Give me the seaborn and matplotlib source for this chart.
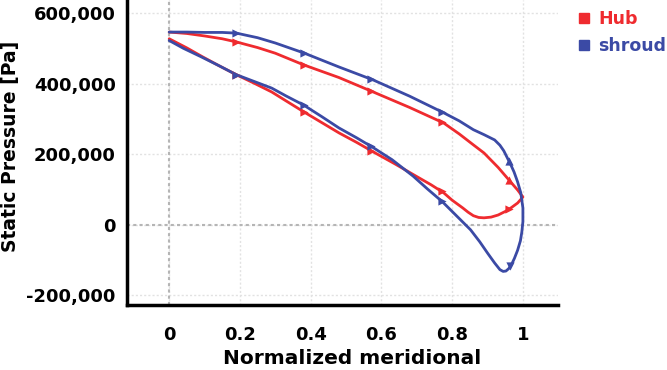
import pandas as pd
import seaborn as sns
import matplotlib
matplotlib.use("Agg")
import matplotlib.pyplot as plt
from matplotlib.ticker import MultipleLocator, StrMethodFormatter
from matplotlib.lines import Line2D

# hub loop: leading edge -> trailing edge (upper) -> back to leading edge (lower)
hub_x = [0, 0.05, 0.1, 0.15, 0.19, 0.25, 0.3, 0.38, 0.48, 0.577, 0.68, 0.776, 0.82, 0.86, 0.89,
         0.93, 0.966, 0.985, 1.0,
         0.985, 0.966, 0.95, 0.93, 0.91, 0.89, 0.875, 0.86, 0.845, 0.83, 0.80, 0.776, 0.74, 0.70, 0.64,
         0.577, 0.53, 0.48, 0.43, 0.38, 0.33, 0.29, 0.24, 0.19, 0.14, 0.094, 0.05, 0]
hub_y = [547, 543, 536, 528, 519, 503, 487, 454, 418, 377, 333, 289, 258, 227, 204,
         163, 121, 99, 79,
         62, 48, 38, 28, 22, 20, 21, 26, 36, 48, 70, 91, 114, 137, 172,
         207, 234, 261, 291, 321, 352, 377, 402, 426, 452, 477, 502, 528]

shroud_x = [0, 0.05, 0.1, 0.15, 0.19, 0.25, 0.3, 0.38, 0.48, 0.577, 0.68, 0.776, 0.82, 0.86, 0.89, 0.92,
            0.935, 0.946, 0.956, 0.966, 0.975, 0.985, 0.994, 1.0,
            1.0, 0.997, 0.993, 0.985, 0.976, 0.968, 0.96, 0.952, 0.944, 0.935, 0.92, 0.90, 0.878, 0.852,
            0.81, 0.773, 0.73, 0.69, 0.63, 0.577, 0.53, 0.48, 0.43, 0.38, 0.33, 0.29, 0.24, 0.19, 0.14, 0.09, 0.04, 0]
shroud_y = [547, 547, 546, 546, 544, 531, 516, 488, 448, 411, 365, 318, 295, 270, 256, 241,
            226, 210, 190, 170, 150, 122, 91, 48,
            9, -20, -45, -72, -95, -112, -124, -131, -132, -127, -108, -80, -48, -14,
            28, 65, 102, 138, 185, 219, 247, 275, 308, 340, 366, 388, 407, 426, 452, 477, 501, 523]

# arrow markers along the curves
hub_mark_x = [0.19, 0.38, 0.57, 0.77, 0.96, 0.19, 0.38, 0.57, 0.77, 0.96]
hub_mark_y = [519, 454, 380, 292, 127, 426, 321, 210, 95, 45]
hub_mark_m = ['>', '>', '>', '>', '^', '>', '>', '>', '>', '>']
shroud_mark_x = [0.19, 0.38, 0.57, 0.77, 0.962, 0.19, 0.38, 0.57, 0.77, 0.963]
shroud_mark_y = [544, 488, 414, 321, 180, 426, 340, 223, 68, -118]
shroud_mark_m = ['>', '>', '>', '>', '^', '>', '>', '>', '>', 'v']

series = ['Hub', 'shroud']
colors = {'Hub': '#ef2b2f', 'shroud': '#3b4aa5'}

rows = []
for name, xs, ys in [('Hub', hub_x, hub_y), ('shroud', shroud_x, shroud_y)]:
    for i, (x, y) in enumerate(zip(xs, ys)):
        rows.append({'series': name, 'order': i, 'x': x, 'y': y * 1000})
df = pd.DataFrame(rows)

mrows = []
for name, xs, ys, ms in [('Hub', hub_mark_x, hub_mark_y, hub_mark_m),
                         ('shroud', shroud_mark_x, shroud_mark_y, shroud_mark_m)]:
    for x, y, m in zip(xs, ys, ms):
        mrows.append({'series': name, 'x': x, 'y': y * 1000, 'm': m})
marks = pd.DataFrame(mrows)

sns.set_style('white')
plt.rcParams['font.family'] = ['DejaVu Sans']
plt.rcParams['font.weight'] = 'bold'
plt.rcParams['axes.unicode_minus'] = False

fig = plt.figure(figsize=(6.67, 3.70), dpi=100)
ax = fig.add_axes([0.19, 0.176, 0.647, 0.824])

ax.grid(True, which='major', linestyle=(0, (1.5, 1.5)), color='#e2e2e2', linewidth=1.0)
ax.axhline(0, linestyle=(0, (1.5, 1.5)), color='#b5b5b5', linewidth=1.5, zorder=1)
ax.axvline(0, linestyle=(0, (1.5, 1.5)), color='#b5b5b5', linewidth=1.5, zorder=1)

sns.lineplot(data=df, x='x', y='y', hue='series', units='series', estimator=None, sort=False,
             palette=colors, linewidth=2.0, legend=False, ax=ax, zorder=3)
for name in series:
    sub = marks[marks['series'] == name]
    for m in sub['m'].unique():
        s = sub[sub['m'] == m]
        sns.scatterplot(x=s['x'], y=s['y'], marker=m, color=colors[name], s=35,
                        edgecolor=colors[name], linewidth=0, legend=False, ax=ax, zorder=4)

ax.set_xlim(-0.12, 1.1)
ax.set_ylim(-227000, 638000)
ax.xaxis.set_major_locator(MultipleLocator(0.2))
ax.xaxis.set_minor_locator(MultipleLocator(0.05))
ax.yaxis.set_major_locator(MultipleLocator(200000))
ax.yaxis.set_minor_locator(MultipleLocator(50000))
ax.yaxis.set_major_formatter(StrMethodFormatter('{x:,.0f}'))
ax.set_xticks([0, 0.2, 0.4, 0.6, 0.8, 1.0])
ax.set_xticklabels(['0', '0.2', '0.4', '0.6', '0.8', '1'])

ax.tick_params(axis='both', which='major', direction='out', length=5, width=1.5, color='#888888',
               labelsize=13, labelcolor='black')
ax.tick_params(axis='both', which='minor', direction='out', length=3, width=1.2, color='#999999')
ax.tick_params(axis='x', which='major', pad=10)
ax.tick_params(axis='y', which='major', pad=3)
for lab in ax.get_xticklabels() + ax.get_yticklabels():
    lab.set_fontweight('bold')

sns.despine(ax=ax, top=True, right=True)
for side in ['left', 'bottom']:
    ax.spines[side].set_linewidth(2.5)
    ax.spines[side].set_color('black')

ax.set_xlabel('Normalized meridional', fontsize=14.5, fontweight='bold', color='black')
ax.set_ylabel('Static Pressure [Pa]', fontsize=13.5, fontweight='bold', color='black')
ax.xaxis.set_label_coords(0.522, -0.145)
ax.yaxis.set_label_coords(-0.247, 0.52)

handles = [Line2D([], [], marker='s', linestyle='', color=colors[n], markersize=7) for n in series]
leg = fig.legend(handles, series, loc='upper left', bbox_to_anchor=(0.847, 1.0), frameon=False,
                 prop={'size': 12.5, 'weight': 'bold'}, handletextpad=0.3, labelspacing=0.5,
                 handlelength=1.0, borderaxespad=0.2)
for txt, n in zip(leg.get_texts(), series):
    txt.set_color(colors[n])

fig.savefig('out.png', dpi=100)
